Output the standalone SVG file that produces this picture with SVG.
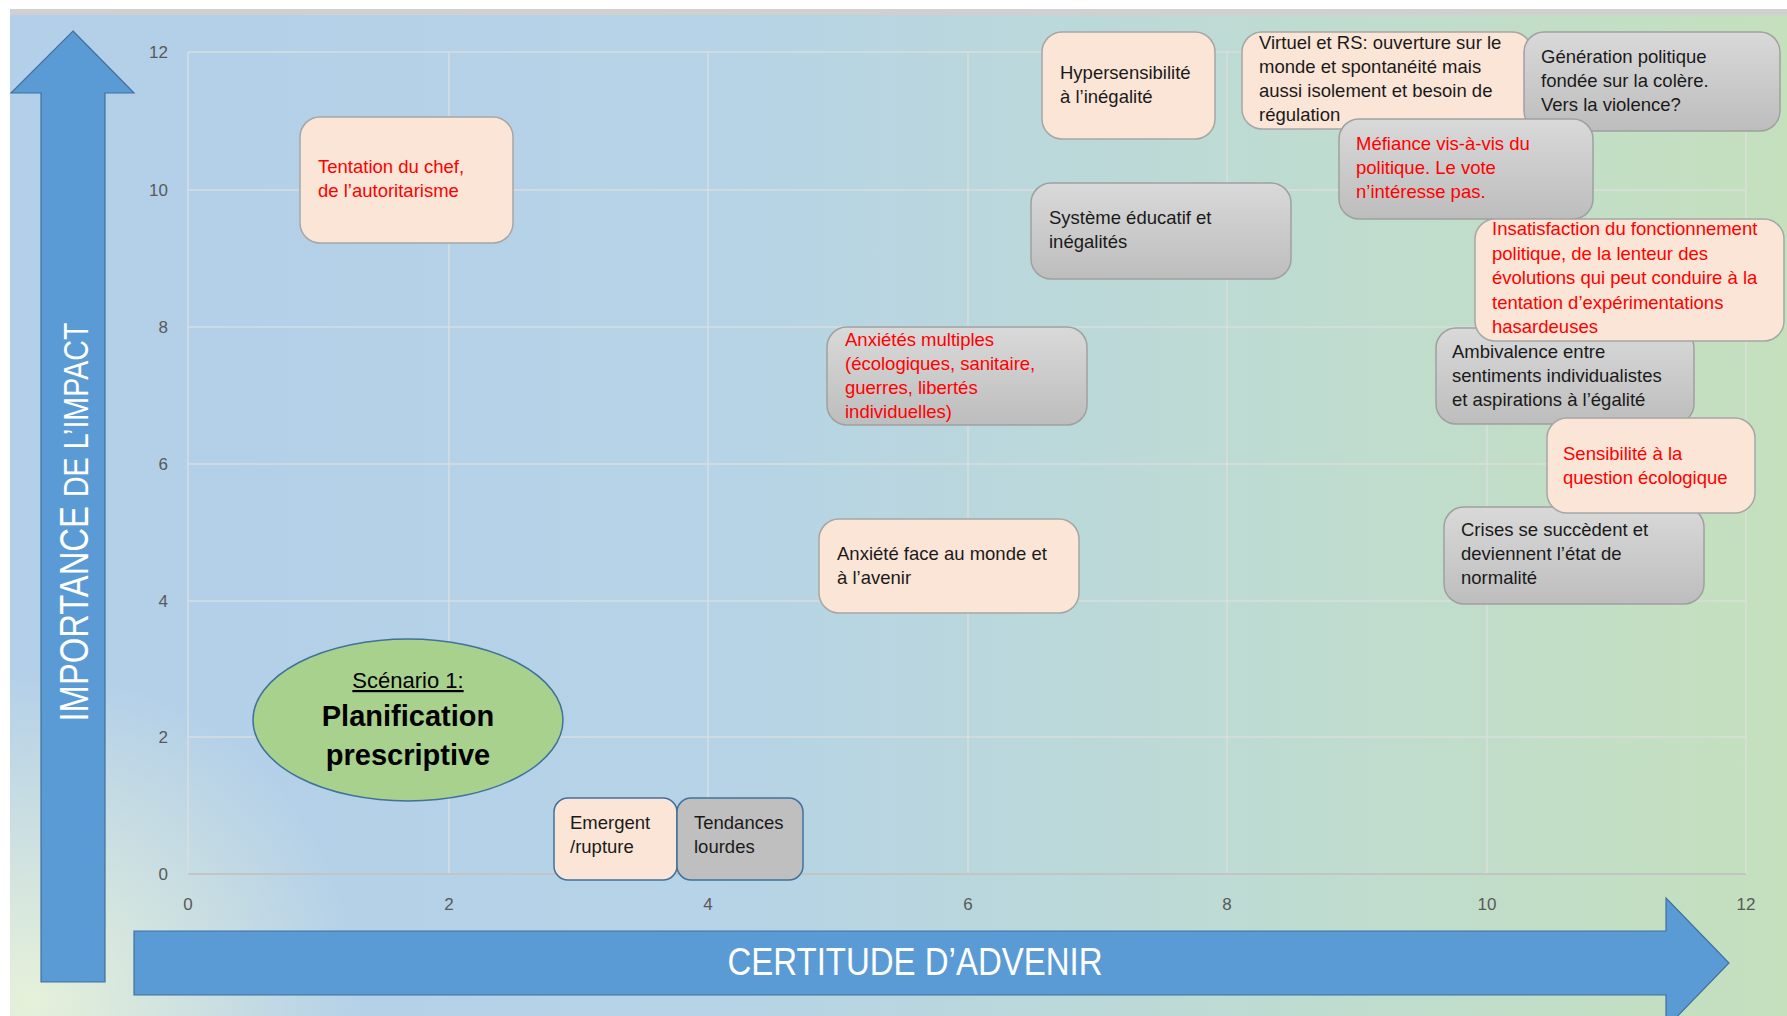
<svg xmlns="http://www.w3.org/2000/svg" width="1787" height="1016" viewBox="0 0 1787 1016">
<defs>
<linearGradient id="bg" x1="0" y1="0" x2="1" y2="0">
<stop offset="0" stop-color="#b3cfe9"/>
<stop offset="0.4" stop-color="#b6d3e7"/>
<stop offset="0.7" stop-color="#bedbd3"/>
<stop offset="1" stop-color="#c5e0bd"/>
</linearGradient>
<radialGradient id="bl" cx="30" cy="1000" r="330" gradientUnits="userSpaceOnUse">
<stop offset="0" stop-color="#e6f1d9" stop-opacity="1"/>
<stop offset="1" stop-color="#e6f1d9" stop-opacity="0"/>
</radialGradient>
<linearGradient id="gr" x1="0" y1="0" x2="0" y2="1">
<stop offset="0" stop-color="#d9d9d9"/>
<stop offset="1" stop-color="#bdbdbd"/>
</linearGradient>
<style>
.grid{stroke:#dedede;stroke-width:1.5;fill:none;opacity:0.85}
.ax{font-family:"Liberation Sans",Arial,sans-serif;font-size:17px;fill:#595959}
.peach{fill:#fbe5d6;stroke:#a6a6a6;stroke-width:1.5}
.gray{fill:url(#gr);stroke:#a0a0a0;stroke-width:1.5}
.t{font-family:"Liberation Sans",Arial,sans-serif;font-size:18.5px;fill:#1a1a1a}
.r{fill:#ff0000}
.arrow{fill:#5b9bd5;stroke:#41719c;stroke-width:1.2}
.big{font-family:"Liberation Sans",Arial,sans-serif;fill:#ffffff}
</style>
</defs>
<rect x="0" y="0" width="1787" height="1016" fill="#ffffff"/>
<rect x="10" y="9" width="1777" height="7" fill="#d0d0d0"/>
<rect x="10" y="15" width="1777" height="1001" fill="url(#bg)"/>
<rect x="10" y="15" width="1777" height="1001" fill="url(#bl)"/>

<g id="grid">
<line class="grid" x1="188" y1="52" x2="1746" y2="52"/>
<line class="grid" x1="188" y1="190" x2="1746" y2="190"/>
<line class="grid" x1="188" y1="327" x2="1746" y2="327"/>
<line class="grid" x1="188" y1="464" x2="1746" y2="464"/>
<line class="grid" x1="188" y1="601" x2="1746" y2="601"/>
<line class="grid" x1="188" y1="737" x2="1746" y2="737"/>
<line class="grid" x1="188" y1="52" x2="188" y2="874"/>
<line class="grid" x1="449" y1="52" x2="449" y2="874"/>
<line class="grid" x1="708" y1="52" x2="708" y2="874"/>
<line class="grid" x1="968" y1="52" x2="968" y2="874"/>
<line class="grid" x1="1227" y1="52" x2="1227" y2="874"/>
<line class="grid" x1="1487" y1="52" x2="1487" y2="874"/>
<line class="grid" x1="1746" y1="52" x2="1746" y2="874"/>
<line x1="188" y1="874" x2="1746" y2="874" stroke="#c4c4c4" stroke-width="2"/>
</g>
<g id="axis-labels">
<text class="ax" x="168" y="58" text-anchor="end">12</text>
<text class="ax" x="168" y="196" text-anchor="end">10</text>
<text class="ax" x="168" y="333" text-anchor="end">8</text>
<text class="ax" x="168" y="470" text-anchor="end">6</text>
<text class="ax" x="168" y="607" text-anchor="end">4</text>
<text class="ax" x="168" y="743" text-anchor="end">2</text>
<text class="ax" x="168" y="880" text-anchor="end">0</text>
<text class="ax" x="188" y="910" text-anchor="middle">0</text>
<text class="ax" x="449" y="910" text-anchor="middle">2</text>
<text class="ax" x="708" y="910" text-anchor="middle">4</text>
<text class="ax" x="968" y="910" text-anchor="middle">6</text>
<text class="ax" x="1227" y="910" text-anchor="middle">8</text>
<text class="ax" x="1487" y="910" text-anchor="middle">10</text>
<text class="ax" x="1746" y="910" text-anchor="middle">12</text>
</g>

<g id="axis-y">
<polygon class="arrow" points="73,31 134,93 105,93 105,982 41,982 41,93 11,93"/>
<text class="big" transform="translate(0,522) rotate(-90)" x="0" y="88" text-anchor="middle" textLength="399" lengthAdjust="spacingAndGlyphs"><tspan font-size="40">IMPORTANCE </tspan><tspan font-size="35">DE L’IMPACT</tspan></text>
</g>
<g id="axis-x">
<polygon class="arrow" points="134,931 1666,931 1666,898 1729,963 1666,1028 1666,995 134,995"/>
<text class="big" x="915" y="975" font-size="38" text-anchor="middle" textLength="375" lengthAdjust="spacingAndGlyphs">CERTITUDE D’ADVENIR</text>
</g>

<g id="connectors"></g>

<g id="n-tentation">
<rect class="peach" x="300" y="117" width="213" height="126" rx="20"/>
<text class="t r" x="318" y="173">Tentation du chef,</text>
<text class="t r" x="318" y="197">de l’autoritarisme</text>
</g>
<g id="n-hypersensibilite">
<rect class="peach" x="1042" y="32" width="173" height="107" rx="20"/>
<text class="t" x="1060" y="79">Hypersensibilité</text>
<text class="t" x="1060" y="103">à l’inégalité</text>
</g>
<g id="n-virtuel">
<rect class="peach" x="1242" y="32" width="290" height="97" rx="20"/>
<text class="t" x="1259" y="49">Virtuel et RS: ouverture sur le</text>
<text class="t" x="1259" y="73">monde et spontanéité mais</text>
<text class="t" x="1259" y="97">aussi isolement et besoin de</text>
<text class="t" x="1259" y="121">régulation</text>
</g>
<g id="n-generation">
<rect class="gray" x="1524" y="32" width="256" height="99" rx="20"/>
<text class="t" x="1541" y="63">Génération politique</text>
<text class="t" x="1541" y="87">fondée sur la colère.</text>
<text class="t" x="1541" y="111">Vers la violence?</text>
</g>
<g id="n-mefiance">
<rect class="gray" x="1339" y="119" width="254" height="100" rx="20"/>
<text class="t r" x="1356" y="150">Méfiance vis-à-vis du</text>
<text class="t r" x="1356" y="174">politique. Le vote</text>
<text class="t r" x="1356" y="198">n’intéresse pas.</text>
</g>
<g id="n-systeme">
<rect class="gray" x="1031" y="183" width="260" height="96" rx="20"/>
<text class="t" x="1049" y="224">Système éducatif et</text>
<text class="t" x="1049" y="248">inégalités</text>
</g>
<g id="n-anxietes">
<rect class="gray" x="827" y="327" width="260" height="98" rx="20"/>
<text class="t r" x="845" y="346">Anxiétés multiples</text>
<text class="t r" x="845" y="370">(écologiques, sanitaire,</text>
<text class="t r" x="845" y="394">guerres, libertés</text>
<text class="t r" x="845" y="418">individuelles)</text>
</g>
<g id="n-ambivalence">
<rect class="gray" x="1436" y="328" width="258" height="96" rx="20"/>
<text class="t" x="1452" y="358">Ambivalence entre</text>
<text class="t" x="1452" y="382">sentiments individualistes</text>
<text class="t" x="1452" y="406">et aspirations à l’égalité</text>
</g>
<g id="n-insatisfaction">
<rect class="peach" x="1475" y="219" width="309" height="122" rx="20"/>
<text class="t r" x="1492" y="235">Insatisfaction du fonctionnement</text>
<text class="t r" x="1492" y="259.5">politique, de la lenteur des</text>
<text class="t r" x="1492" y="284">évolutions qui peut conduire à la</text>
<text class="t r" x="1492" y="308.5">tentation d’expérimentations</text>
<text class="t r" x="1492" y="333">hasardeuses</text>
</g>
<g id="n-crises">
<rect class="gray" x="1444" y="507" width="260" height="97" rx="20"/>
<text class="t" x="1461" y="536">Crises se succèdent et</text>
<text class="t" x="1461" y="560">deviennent l’état de</text>
<text class="t" x="1461" y="584">normalité</text>
</g>
<g id="n-sensibilite">
<rect class="peach" x="1547" y="418" width="208" height="95" rx="20"/>
<text class="t r" x="1563" y="460">Sensibilité à la</text>
<text class="t r" x="1563" y="484">question écologique</text>
</g>
<g id="n-anxiete-face">
<rect class="peach" x="819" y="519" width="260" height="94" rx="20"/>
<text class="t" x="837" y="560">Anxiété face au monde et</text>
<text class="t" x="837" y="584">à l’avenir</text>
</g>
<g id="n-scenario">
<ellipse cx="408" cy="720" rx="155" ry="81" fill="#a9d18e" stroke="#41719c" stroke-width="1.5"/>
<text x="408" y="688" text-anchor="middle" font-family="Liberation Sans, Arial, sans-serif" font-size="22" fill="#000" text-decoration="underline">Scénario 1:</text>
<text x="408" y="726" text-anchor="middle" font-family="Liberation Sans, Arial, sans-serif" font-size="29" font-weight="bold" fill="#000">Planification</text>
<text x="408" y="765" text-anchor="middle" font-family="Liberation Sans, Arial, sans-serif" font-size="29" font-weight="bold" fill="#000">prescriptive</text>
</g>
<g id="n-emergent">
<rect x="554" y="798" width="123" height="82" rx="14" fill="#fbe5d6" stroke="#41719c" stroke-width="1.5"/>
<text class="t" x="570" y="829">Emergent</text>
<text class="t" x="570" y="853">/rupture</text>
</g>
<g id="n-tendances">
<rect x="677" y="798" width="126" height="82" rx="14" fill="#bfbfbf" stroke="#41719c" stroke-width="1.5"/>
<text class="t" x="694" y="829">Tendances</text>
<text class="t" x="694" y="853">lourdes</text>
</g>
</svg>
